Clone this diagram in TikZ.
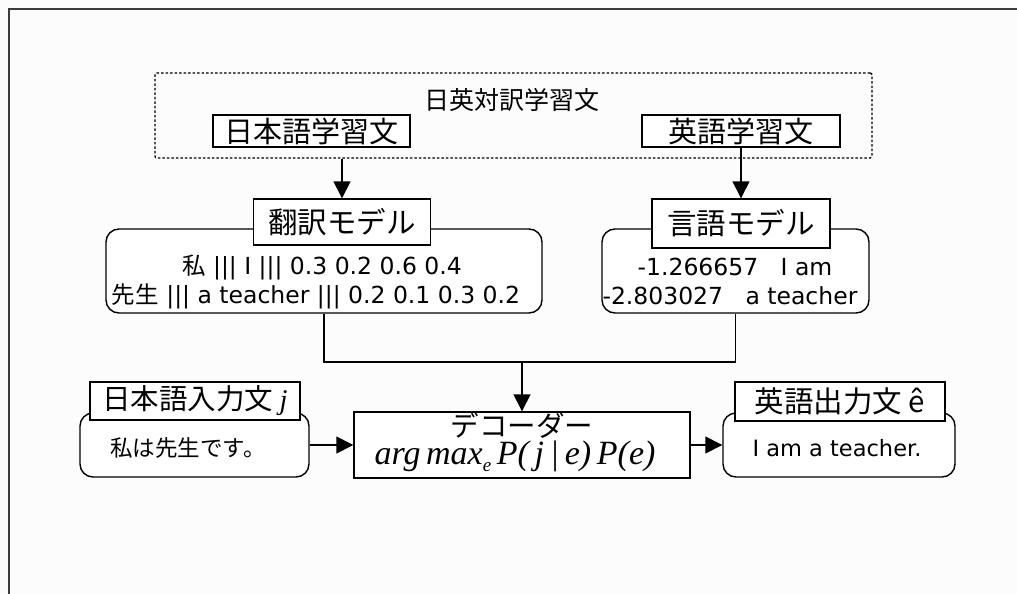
\documentclass[tikz,border=0pt]{standalone}
\usepackage{fontspec}
\setmainfont{Noto Sans CJK JP}
\newfontfamily\serifit{Liberation Serif}
\newfontfamily\latin{DejaVu Sans}
\usetikzlibrary{arrows.meta}
\tikzset{
  lw/.style={line width=1.4pt, draw=black},
  titlebox/.style={lw, fill=white, inner sep=0pt},
  bodybox/.style={lw, fill=white, rounded corners=13pt, inner sep=0pt},
  txt/.style={inner sep=0pt},
  arr/.style={lw, -{Triangle[length=17pt,width=17pt]}},
  conn/.style={lw},
}
\newcommand{\fs}[1]{\fontsize{#1}{#1}\selectfont}
\begin{document}
\begin{tikzpicture}[x=1pt,y=-1pt]
\fill[fill={rgb,255:red,252;green,252;blue,252}] (0,0) rectangle (1017,594);
\useasboundingbox (0,0) rectangle (1017,594);
\draw[line width=1.5pt, draw={rgb,255:red,60;green,60;blue,60}] (9,594) -- (9,9) -- (1017,9);

% corpus
\node[draw=black, line width=1.4pt, dash pattern=on 2.5pt off 2pt, rounded corners=2pt,
  minimum width=717pt, minimum height=85pt, inner sep=0pt] (corpus) at (513.5,115.5) {};
\node[txt] (corpuslabel) at (512,100) {\fs{25}日英対訳学習文};
\node[titlebox, minimum width=197pt, minimum height=32pt] (jtrain) at (311.5,131) {\fs{29}日本語学習文};
\node[titlebox, minimum width=198pt, minimum height=32pt] (etrain) at (741,131) {\fs{29}英語学習文};

% translation model
\node[bodybox, minimum width=436pt, minimum height=84pt] (tmbody) at (324,271) {};
\node[txt] (tmline1) at (322,267) {\fs{23.5}私\latin\ ||| I ||| 0.3 0.2 0.6 0.4};
\node[txt] (tmline2) at (316,296) {\fs{23.5}先生\latin\ ||| a teacher ||| 0.2 0.1 0.3 0.2};
\node[titlebox, minimum width=177pt, minimum height=46pt] (tm) at (342,222) {\fs{29.5}翻訳モデル};

% language model
\node[bodybox, minimum width=267pt, minimum height=84pt] (lmbody) at (735.5,271) {};
\node[txt] (lmline1) at (735,267) {\latin\fs{23.5}-1.266657\ \ \ I am};
\node[txt] (lmline2) at (730,296) {\latin\fs{23.5}-2.803027\ \ \ a teacher};
\node[titlebox, minimum width=178pt, minimum height=49pt] (lm) at (741,223.5) {\fs{29.5}言語モデル};

% decoder
\node[lw, fill=white, minimum width=336pt, minimum height=66pt, inner sep=0pt] (dec) at (522,445) {};
\node[txt] (dectitle) at (522,425) {\fs{28.5}デコーダー};
\node[txt] (decmath) at (515,456) {\serifit\itshape\fs{34}arg\,max\raisebox{-7pt}{\fs{19}e}\,P(\,j\,|\,e)\,P(e)};

% input
\node[bodybox, minimum width=229pt, minimum height=64pt] (inbody) at (194.5,445) {};
\node[txt] (intext) at (188,448) {\fs{22.5}私は先生です。};
\node[titlebox, minimum width=210pt, minimum height=38pt] (intitle) at (195,401) {\fs{28.5}日本語入力文\ {\serifit\itshape j}};

% output
\node[bodybox, minimum width=232pt, minimum height=64pt] (outbody) at (839,445) {};
\node[txt] (outtext) at (837,448) {\latin\fs{22.5}I am a teacher.};
\node[titlebox, minimum width=210pt, minimum height=39pt] (outtitle) at (840,401.5) {\fs{29.5}英語出力文\ {\itshape\^{e}}};

% connectors
\draw[arr] (corpus.south -| tm.north) -- (tm.north);
\draw[arr] (etrain.south) -- (lm.north);
\coordinate (join) at (522,362);
\draw[conn] (tmbody.south) |- (join) -| (lmbody.south);
\draw[arr] (join) -- (dec.north);
\draw[arr] (inbody.east) -- (dec.west);
\draw[arr] (dec.east) -- (outbody.west);
\end{tikzpicture}
\end{document}
